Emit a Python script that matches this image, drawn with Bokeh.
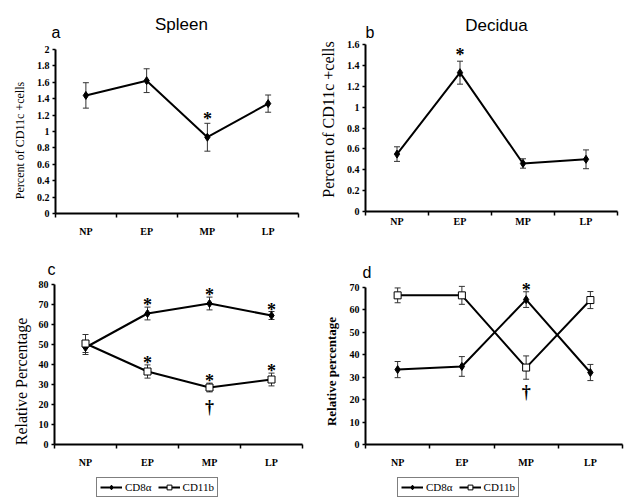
import math
from bokeh.plotting import figure
from bokeh.models import (Range1d, FixedTicker, NumeralTickFormatter, Whisker, TeeHead,
                          ColumnDataSource, Label, LabelSet, Legend, LegendItem)
from bokeh.layouts import column, row
from bokeh.embed import file_html
from bokeh.resources import INLINE

categories = ["NP", "EP", "MP", "LP"]

# Panel a: Spleen, percent of CD11c+ cells
spleen_mean = [1.44, 1.62, 0.93, 1.34]
spleen_err = [0.155, 0.145, 0.17, 0.105]
spleen_sig = ["", "", "*", ""]

# Panel b: Decidua, percent of CD11c+ cells
decidua_mean = [0.55, 1.33, 0.46, 0.50]
decidua_err = [0.07, 0.11, 0.045, 0.09]
decidua_sig = ["", "*", "", ""]

# Panel c: Spleen relative percentage
spleen_cd8 = [48.5, 65.5, 70.5, 64.5]
spleen_cd8_err = [3.5, 3.2, 3.2, 2.0]
spleen_cd8_sig = ["", "*", "*", "*"]
spleen_cd11b = [50.5, 36.5, 28.5, 32.5]
spleen_cd11b_err = [4.5, 3.3, 2.2, 3.2]
spleen_cd11b_sig = ["", "*", "*", "*"]
spleen_cd11b_dag = ["", "", "\u2020", ""]

# Panel d: Decidua relative percentage
decidua_cd8 = [33.4, 34.8, 64.6, 32.1]
decidua_cd8_err = [3.6, 4.4, 3.5, 3.6]
decidua_cd8_sig = ["", "", "*", ""]
decidua_cd11b = [66.5, 66.5, 34.3, 64.4]
decidua_cd11b_err = [3.3, 4.0, 5.2, 3.8]
decidua_cd11b_dag = ["", "", "\u2020", ""]

spleen_ticks = [0, 0.2, 0.4, 0.6, 0.8, 1, 1.2, 1.4, 1.6, 1.8, 2]
decidua_ticks = [0, 0.2, 0.4, 0.6, 0.8, 1, 1.2, 1.4, 1.6]
spleen_rel_ticks = [0, 10, 20, 30, 40, 50, 60, 70, 80]
decidua_rel_ticks = [0, 10, 20, 30, 40, 50, 60, 70]

series_names = ["CD8\u03b1", "CD11b"]

xc = [i + 0.5 for i in range(len(categories))]
bounds = list(range(len(categories) + 1))

SERIF = "Liberation Serif"
SANS = "Liberation Sans"


class Panel:
    """Figure whose frame fills the canvas; axes sit at data 0 via fixed_location."""

    def __init__(self, w, h, yticks, box, xlabel_standoff):
        x0, x1, y0, y1 = box  # canvas px of x=0, x=n, y=0, y=ymax
        n = len(categories)
        ymax = yticks[-1]
        self.kx = n / (x1 - x0)
        self.ky = ymax / (y0 - y1)
        self.x0, self.y0 = x0, y0
        p = figure(width=w, height=h,
                   x_range=Range1d(-x0 * self.kx, (w - x0) * self.kx),
                   y_range=Range1d(-(h - y0) * self.ky, y0 * self.ky),
                   output_backend="svg", toolbar_location=None, min_border=0)
        p.outline_line_color = None
        p.grid.visible = False
        p.background_fill_color = "white"
        xa = p.xaxis[0]
        xa.fixed_location = 0
        xa.bounds = (0, n)
        xa.ticker = FixedTicker(ticks=xc, minor_ticks=bounds)
        xa.major_label_overrides = {x: c for x, c in zip(xc, categories)}
        xa.major_tick_out = 0
        xa.major_tick_in = 0
        xa.minor_tick_out = 4
        xa.minor_tick_in = 0
        xa.minor_tick_line_width = 1.5
        xa.minor_tick_line_color = "black"
        xa.axis_line_width = 2
        xa.axis_line_color = "black"
        xa.major_label_text_font = SERIF
        xa.major_label_text_font_style = "bold"
        xa.major_label_text_font_size = "10px"
        xa.major_label_text_color = "black"
        xa.major_label_standoff = xlabel_standoff
        ya = p.yaxis[0]
        ya.fixed_location = 0
        ya.bounds = (0, ymax)
        ya.ticker = FixedTicker(ticks=yticks)
        ya.formatter = NumeralTickFormatter(format="0.[0]")
        ya.minor_tick_line_color = None
        ya.major_tick_out = 3
        ya.major_tick_in = 0
        ya.major_tick_line_width = 1.5
        ya.major_tick_line_color = "black"
        ya.axis_line_width = 2
        ya.axis_line_color = "black"
        ya.major_label_text_font = SERIF
        ya.major_label_text_font_style = "bold"
        ya.major_label_text_font_size = "10px"
        ya.major_label_text_color = "black"
        ya.major_label_standoff = 3
        self.p = p

    def dx(self, px):
        return (px - self.x0) * self.kx

    def dy(self, py):
        return (self.y0 - py) * self.ky

    def ylabel(self, text, px, py, size, style):
        # px, py: canvas pixel centre of the rotated axis title
        self.p.add_layout(Label(x=self.dx(px), y=self.dy(py), text=text, angle=math.pi / 2,
                                text_font=SERIF, text_font_size=size, text_font_style=style,
                                text_align="center", text_baseline="middle",
                                text_color="black"))

    def series(self, vals, errs, marker, size, fill):
        p = self.p
        lr = p.line(xc, vals, line_width=2, line_color="black")
        src = ColumnDataSource(dict(x=xc, lo=[v - e for v, e in zip(vals, errs)],
                                    hi=[v + e for v, e in zip(vals, errs)]))
        p.add_layout(Whisker(source=src, base="x", upper="hi", lower="lo", dimension="height",
                             line_color="#333333", line_width=1,
                             upper_head=TeeHead(size=6, line_color="#333333", line_width=1),
                             lower_head=TeeHead(size=6, line_color="#333333", line_width=1)))
        sr = p.scatter(xc, vals, marker=marker, size=size, fill_color=fill,
                       line_color="black", line_width=1)
        return lr, sr, src

    def marks(self, src, key, texts, font, size, style, offset):
        s = ColumnDataSource(dict(x=src.data["x"], y=src.data[key], t=texts))
        self.p.add_layout(LabelSet(x="x", y="y", text="t", source=s, text_align="center",
                                   text_baseline="alphabetic", y_offset=offset,
                                   text_font=font, text_font_size=size,
                                   text_font_style=style, text_color="black"))

    def title(self, text, px, py, size, align="left"):
        # px, py: canvas pixel position of the text anchor (baseline)
        self.p.add_layout(Label(x=self.dx(px), y=self.dy(py),
                                text=text, text_font=SANS, text_font_size=size,
                                text_align=align, text_baseline="alphabetic",
                                text_color="black"))

    def legend(self, items, px, py_bottom):
        h = self.p.height
        self.p.add_layout(Legend(items=items, orientation="horizontal",
                                 location=(px, h - py_bottom),
                                 border_line_color="black", border_line_width=1,
                                 label_text_font=SERIF, label_text_font_size="11px",
                                 label_text_color="black",
                                 glyph_width=22, glyph_height=12, padding=3, spacing=6,
                                 margin=0, label_standoff=3, background_fill_alpha=1))


# ---- Panel a ----
A = Panel(312, 248, spleen_ticks, (55, 298, 213, 49), 8)
A.ylabel("Percent of CD11c +cells", 19, 140, "12px", "normal")
_, _, sa = A.series(spleen_mean, spleen_err, "diamond", 8, "black")
A.marks(sa, "hi", spleen_sig, SANS, "18px", "bold", -2)
A.title("Spleen", 181, 24, "17px", "center")
A.title("a", 51, 32, "16px")

# ---- Panel b ----
B = Panel(312, 248, decidua_ticks, (53, 305, 211, 44), 0)
B.ylabel("Percent of CD11c +cells", 16, 119, "16px", "normal")
_, _, sb = B.series(decidua_mean, decidua_err, "diamond", 8, "black")
B.marks(sb, "hi", decidua_sig, SANS, "18px", "bold", 0)
B.title("Decidua", 184, 25, "17px", "center")
B.title("b", 53, 32, "16px")

# ---- Panel c ----
C = Panel(312, 256, spleen_rel_ticks, (54, 302, 196, 36), 8)
C.ylabel("Relative Percentage", 21, 133, "16px", "normal")
l8c, s8c, src8c = C.series(spleen_cd8, spleen_cd8_err, "diamond", 8, "black")
l11c, s11c, src11c = C.series(spleen_cd11b, spleen_cd11b_err, "square", 7, "white")
C.marks(src8c, "hi", spleen_cd8_sig, SANS, "18px", "bold", -4)
C.marks(src11c, "hi", spleen_cd11b_sig, SANS, "18px", "bold", -4)
C.marks(src11c, "lo", spleen_cd11b_dag, SERIF, "18px", "bold", -21)
C.title("c", 47, 21, "16px")
C.legend([LegendItem(label=series_names[0], renderers=[l8c, s8c]),
          LegendItem(label=series_names[1], renderers=[l11c, s11c])], 96, 249)

# ---- Panel d ----
D = Panel(312, 256, decidua_rel_ticks, (53, 310, 196, 39), 8)
D.ylabel("Relative percentage", 19, 123, "13px", "bold")
l8d, s8d, src8d = D.series(decidua_cd8, decidua_cd8_err, "diamond", 8, "black")
l11d, s11d, src11d = D.series(decidua_cd11b, decidua_cd11b_err, "square", 7, "white")
D.marks(src8d, "hi", decidua_cd8_sig, SANS, "18px", "bold", -4)
D.marks(src11d, "lo", decidua_cd11b_dag, SERIF, "18px", "bold", -19)
D.title("d", 50, 24, "16px")
D.legend([LegendItem(label=series_names[0], renderers=[l8d, s8d]),
          LegendItem(label=series_names[1], renderers=[l11d, s11d])], 85, 249)

layout = column(row(A.p, B.p), row(C.p, D.p))
open("out.html", "w").write(file_html(layout, INLINE))
